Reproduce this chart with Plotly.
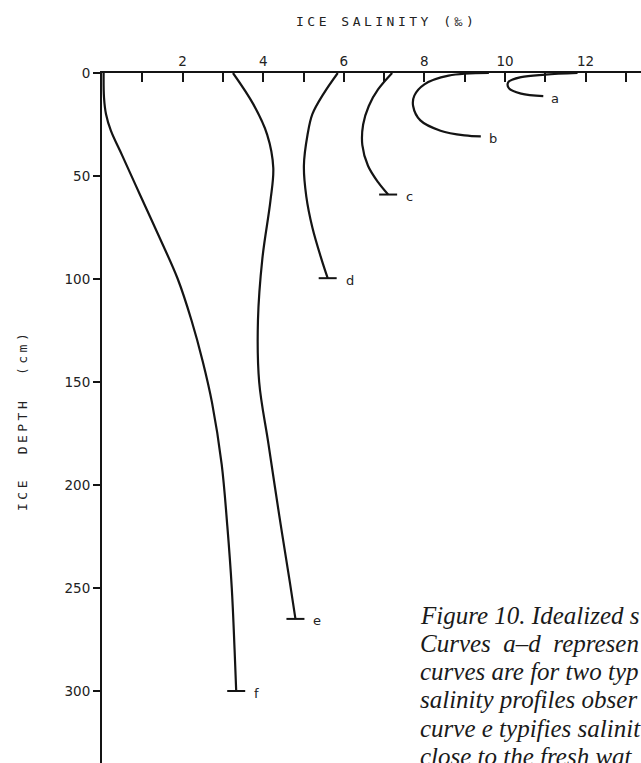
import plotly.graph_objects as go

# ---- data (salinity in per mil, depth in cm) ----
curve_names = ["a", "b", "c", "d", "e", "f"]

a_sal = [11.8, 11.0, 10.4, 10.08, 10.1, 10.4, 10.95]
a_dep = [0.0, 0.8, 2.0, 4.5, 7.5, 10.0, 11.2]

b_sal = [9.6, 8.6, 8.0, 7.75, 7.72, 7.9, 8.4, 9.0, 9.4]
b_dep = [0.0, 1.3, 5.5, 11.0, 16.0, 23.0, 28.0, 30.3, 30.8]

c_sal = [7.2, 6.85, 6.62, 6.48, 6.46, 6.6, 6.85, 7.1]
c_dep = [0.0, 8.0, 16.0, 25.0, 35.0, 45.0, 53.0, 59.0]

d_sal = [5.85, 5.5, 5.22, 5.1, 5.01, 5.07, 5.22, 5.44, 5.6]
d_dep = [0.0, 10.0, 20.0, 30.0, 45.0, 60.0, 75.0, 90.0, 99.6]

e_sal = [3.25, 3.75, 4.1, 4.25, 4.18, 3.98, 3.87, 3.9, 4.13, 4.4, 4.66, 4.8]
e_dep = [0.0, 15.0, 30.0, 46.0, 62.0, 90.0, 120.0, 150.0, 180.0, 215.0, 247.0, 265.0]

f_sal = [0.04, 0.05, 0.1, 0.22, 0.5, 0.94, 1.43, 1.88, 2.22, 2.5, 2.73, 2.97, 3.11, 3.22, 3.29, 3.33]
f_dep = [0.0, 12.0, 20.0, 28.0, 40.0, 59.0, 80.0, 100.0, 120.0, 140.0, 160.0, 190.0, 220.0, 250.0, 280.0, 300.0]

end_ticks = {"a": False, "b": False, "c": True, "d": True, "e": True, "f": True}

x_tickvals = list(range(0, 14))
x_ticktext = ["" if (v % 2 or v == 0) else str(v) for v in x_tickvals]
y_tickvals = [0, 50, 100, 150, 200, 250, 300]
y_ticktext = [str(v) for v in y_tickvals]

x_title = "ICE SALINITY (\u2030)"
y_title = "ICE\u00a0 DEPTH\u00a0 (cm)"

caption_lines = [
    "Figure 10. Idealized s",
    "Curves\u00a0 a\u2013d\u00a0 represen",
    "curves are for two typ",
    "salinity profiles obser",
    "curve e typifies salinit",
    "close to the fresh wat",
]

# ---- figure ----
W, H = 641, 763
L, T = 102, 73
PW, PH = W - L, H - T
PX_PER_UNIT = 40.3
PX_PER_CM = 2.06
INK = "#141414"


def px2paper(px, py):
    return (px - L) / PW, 1 - (py - T) / PH


series = {
    "a": (a_sal, a_dep), "b": (b_sal, b_dep), "c": (c_sal, c_dep),
    "d": (d_sal, d_dep), "e": (e_sal, e_dep), "f": (f_sal, f_dep),
}

fig = go.Figure()
LINE = dict(color=INK, width=2.2, shape="spline", smoothing=1.0)
tick_half = 9 / PX_PER_UNIT
annotations = []
for name in curve_names:
    s, d = series[name]
    fig.add_trace(go.Scatter(x=s, y=d, mode="lines", line=LINE,
                             hoverinfo="skip", showlegend=False))
    if end_ticks[name]:
        fig.add_trace(go.Scatter(x=[s[-1] - tick_half, s[-1] + tick_half],
                                 y=[d[-1], d[-1]], mode="lines",
                                 line=dict(color=INK, width=2),
                                 hoverinfo="skip", showlegend=False))
    annotations.append(dict(
        x=s[-1], y=d[-1], xref="x", yref="y", text=name, showarrow=False,
        xanchor="left", yanchor="middle",
        xshift=(16 if end_ticks[name] else 6), yshift=-2,
        font=dict(family="DejaVu Sans", size=13, color="#222")))

# axis titles
tx, ty = px2paper(386, 22)
annotations.append(dict(
    x=tx, y=ty, xref="paper", yref="paper", showarrow=False,
    text=x_title,
    font=dict(family="DejaVu Sans Mono", size=13, color="#222"),
    xanchor="center", yanchor="middle"))
yx, yy = px2paper(22, 421)
annotations.append(dict(
    x=yx, y=yy, xref="paper", yref="paper", showarrow=False,
    text=y_title, textangle=-90,
    font=dict(family="DejaVu Sans Mono", size=13, color="#222"),
    xanchor="center", yanchor="middle"))

# caption
for i, line in enumerate(caption_lines):
    cx, cy = px2paper(418, 615 + 28.3 * i)
    annotations.append(dict(
        x=cx, y=cy, xref="paper", yref="paper", showarrow=False,
        text="<i>" + line + "</i>", xanchor="left", yanchor="middle",
        font=dict(family="Liberation Serif", size=25, color="#1a1a1a")))

fig.update_layout(
    width=W, height=H,
    margin=dict(l=L, r=0, t=T, b=0, pad=0),
    paper_bgcolor="white", plot_bgcolor="white",
    showlegend=False,
    annotations=annotations,
    xaxis=dict(
        side="top", range=[0, PW / PX_PER_UNIT],
        tickmode="array", tickvals=x_tickvals, ticktext=x_ticktext,
        ticks="inside", ticklen=9, tickwidth=1.6, tickcolor=INK,
        showline=True, linecolor=INK, linewidth=2,
        showgrid=False, zeroline=False,
        tickfont=dict(family="DejaVu Sans", size=13.5, color="#222"),
    ),
    yaxis=dict(
        range=[PH / PX_PER_CM, 0],
        tickmode="array", tickvals=y_tickvals, ticktext=y_ticktext,
        ticks="outside", ticklen=7, tickwidth=1.6, tickcolor=INK,
        showline=True, linecolor=INK, linewidth=2,
        showgrid=False, zeroline=False,
        tickfont=dict(family="DejaVu Sans", size=13.5, color="#222"),
    ),
)

post = """
(function(){
  function ls(){
    document.querySelectorAll('text.annotation-text').forEach(function(t){
      if (t.textContent.indexOf('ICE') === 0) { t.style.letterSpacing = '3.5px'; }
    });
  }
  ls(); setTimeout(ls, 50); setTimeout(ls, 300);
})();
"""

fig.write_html("out.html", post_script=post)
